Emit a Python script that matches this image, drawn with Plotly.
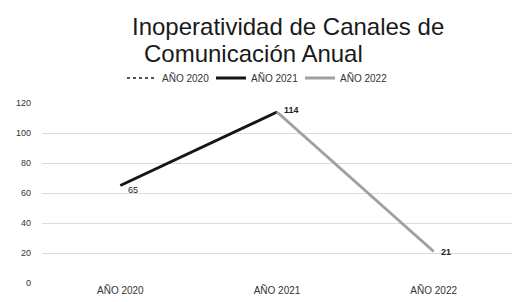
import plotly.graph_objects as go

categories = ["AÑO 2020", "AÑO 2021", "AÑO 2022"]
values = [65, 114, 21]
series_names = ["AÑO 2020", "AÑO 2021", "AÑO 2022"]
y_ticks = [0, 20, 40, 60, 80, 100, 120]

FONT = "Liberation Sans"
L, R, T, B = 42, 6, 103, 19
W, H = 518, 302
PW, PH = W - L - R, H - T - B

fig = go.Figure()

# AÑO 2020: only the first point (dashed style in legend)
fig.add_trace(go.Scatter(
    x=categories[0:1], y=values[0:1], name=series_names[0], mode="lines",
    line=dict(color="#555555", width=2, dash="dot"), hoverinfo="skip",
))
# AÑO 2021: segment from 2020 to 2021
fig.add_trace(go.Scatter(
    x=categories[0:2], y=values[0:2], name=series_names[1], mode="lines",
    line=dict(color="#151515", width=3),
))
# AÑO 2022: segment from 2021 to 2022
fig.add_trace(go.Scatter(
    x=categories[1:3], y=values[1:3], name=series_names[2], mode="lines",
    line=dict(color="#a0a0a0", width=3),
))

# data labels
label_shift = [(13, -4), (14, 2), (12, 0)]
label_weight = ["normal", "bold", "bold"]
for c, v, (dx, dy), wgt in zip(categories, values, label_shift, label_weight):
    fig.add_annotation(x=c, y=v, text=str(v), showarrow=False, xshift=dx, yshift=dy,
                       font=dict(family=FONT, size=9, color="#222222", weight=wgt))

# Title lines
fig.add_annotation(text="Inoperatividad de Canales de", xref="paper", yref="paper",
                   x=(288 - L) / PW, y=(H - B - 27) / PH, xanchor="center", yanchor="middle",
                   showarrow=False, font=dict(family=FONT, size=24, color="#1a1a1a"))
fig.add_annotation(text="Comunicación Anual", xref="paper", yref="paper",
                   x=(253 - L) / PW, y=(H - B - 53) / PH, xanchor="center", yanchor="middle",
                   showarrow=False, font=dict(family=FONT, size=24, color="#1a1a1a"))

fig.update_layout(
    width=W, height=H,
    margin=dict(l=L, r=R, t=T, b=B),
    paper_bgcolor="white", plot_bgcolor="white",
    font=dict(family=FONT, size=9, color="#333333"),
    showlegend=True,
    legend=dict(orientation="h", x=(122 - L) / PW, y=(H - B - 78) / PH,
                xanchor="left", yanchor="middle", itemwidth=30,
                entrywidth=44, entrywidthmode="pixels",
                font=dict(size=10, color="#333333"), bgcolor="rgba(0,0,0,0)"),
    xaxis=dict(type="category", range=[-0.5, 2.5], showgrid=False, zeroline=False,
               showline=False, ticks="", automargin=False,
               tickfont=dict(size=10, color="#333333")),
    yaxis=dict(range=[0, 120], tickvals=y_ticks, showgrid=True, gridcolor="#dcdcdc",
               gridwidth=1, zeroline=False, showline=False, ticks="", automargin=False,
               ticklabelstandoff=10, tickfont=dict(size=9, color="#333333")),
)

fig.write_html("out.html", config={"displayModeBar": False},
               post_script="document.body.style.margin='0';")
